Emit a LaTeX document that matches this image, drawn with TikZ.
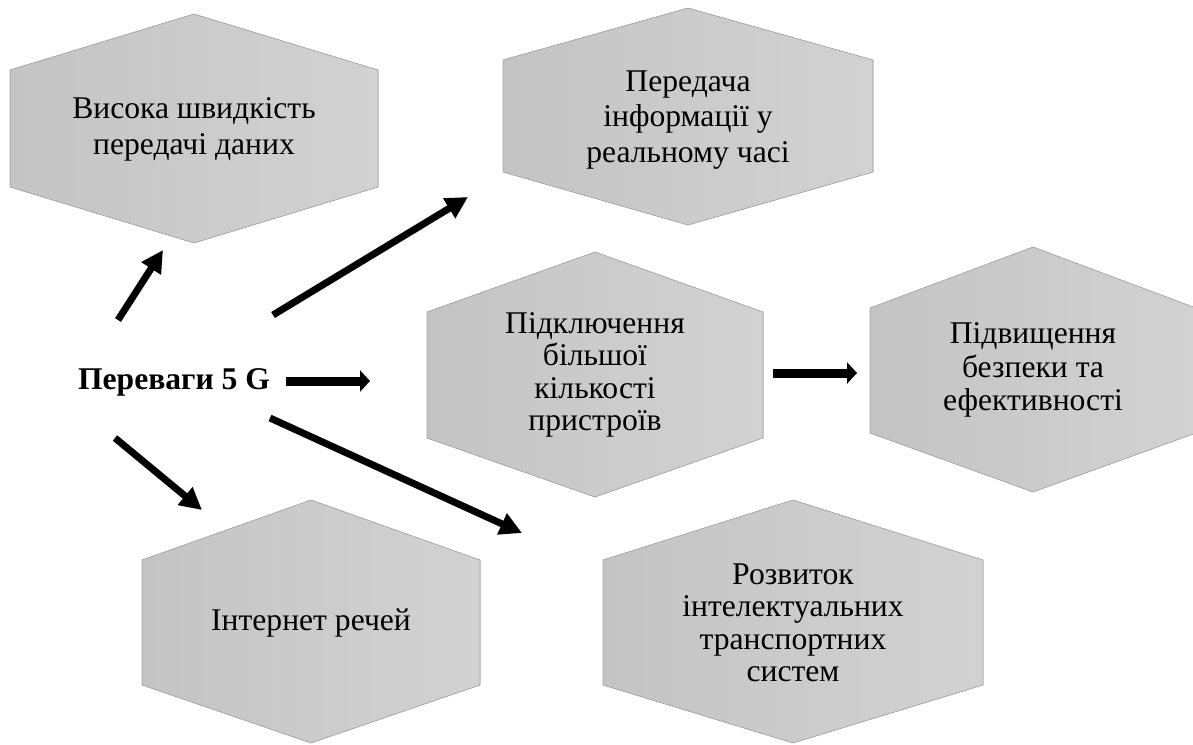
\documentclass[tikz,border=0pt]{standalone}
\usepackage{fontspec}
\setmainfont{Liberation Serif}
\usetikzlibrary{arrows.meta}
\definecolor{hexleft}{RGB}{196,196,196}
\definecolor{hexright}{RGB}{210,210,210}
\definecolor{hexline}{RGB}{165,165,165}

\begin{document}
\begin{tikzpicture}[x=0.02cm,y=-0.02cm,
  hexa/.style={left color=hexleft,right color=hexright,draw=hexline,line width=0.3pt},
  lbl/.style={align=center,font=\fontsize{18}{18.5}\selectfont},
  arr/.style={line width=0.14cm,-{Triangle[length=0.44cm,width=0.44cm]}},
  harr/.style={line width=0.18cm,-{Triangle[length=0.2cm,width=0.42cm]}}]
\useasboundingbox (0,0) rectangle (1193,744);
% hexagons
\filldraw[hexa] (10,70)--(194,14)--(378,70)--(378,187)--(194,243)--(10,187)--cycle;
\filldraw[hexa] (503,60)--(688,8)--(873,60)--(873,172)--(688,225)--(503,172)--cycle;
\filldraw[hexa] (427,312)--(595,252)--(763,312)--(763,438)--(595,497)--(427,438)--cycle;
\filldraw[hexa] (870,308)--(1033,247)--(1196,308)--(1196,433)--(1033,492)--(870,433)--cycle;
\filldraw[hexa] (142,560)--(311,500)--(480,560)--(480,685)--(311,743)--(142,685)--cycle;
\filldraw[hexa] (603,560)--(793,500)--(983,560)--(983,685)--(793,743)--(603,685)--cycle;
% labels
\node[lbl,font=\fontsize{18}{20.5}\selectfont] (speed) at (194,129) {Висока швидкість\\передачі даних};
\node[lbl,font=\fontsize{18}{20}\selectfont] (realtime) at (688,120) {Передача\\інформації у\\реальному часі};
\node[lbl] (devices) at (595,375) {Підключення\\більшої\\кількості\\пристроїв};
\node[lbl,font=\fontsize{18}{19}\selectfont] (safety) at (1033,370) {Підвищення\\безпеки та\\ефективності};
\node[lbl] (iot) at (311,623) {Інтернет речей};
\node[lbl] (transport) at (793,623) {Розвиток\\інтелектуальних\\транспортних\\систем};
\node[font=\fontsize{18}{18}\selectfont\bfseries] (adv) at (174,382) {Переваги 5 G};
% arrows
\coordinate (a1) at (118,320); \coordinate (b1) at (163,250);
\coordinate (a2) at (273,315); \coordinate (b2) at (468,197);
\coordinate (a3) at (286,381); \coordinate (b3) at (370,381);
\coordinate (a4) at (270,418); \coordinate (b4) at (522,533);
\coordinate (a5) at (115,438); \coordinate (b5) at (202,510);
\coordinate (a6) at (773,373); \coordinate (b6) at (857,373);
\draw[arr] (a1)--(b1);
\draw[arr] (a2)--(b2);
\draw[harr] (a3)--(b3);
\draw[arr] (a4)--(b4);
\draw[arr] (a5)--(b5);
\draw[harr] (a6)--(b6);
\end{tikzpicture}
\end{document}
